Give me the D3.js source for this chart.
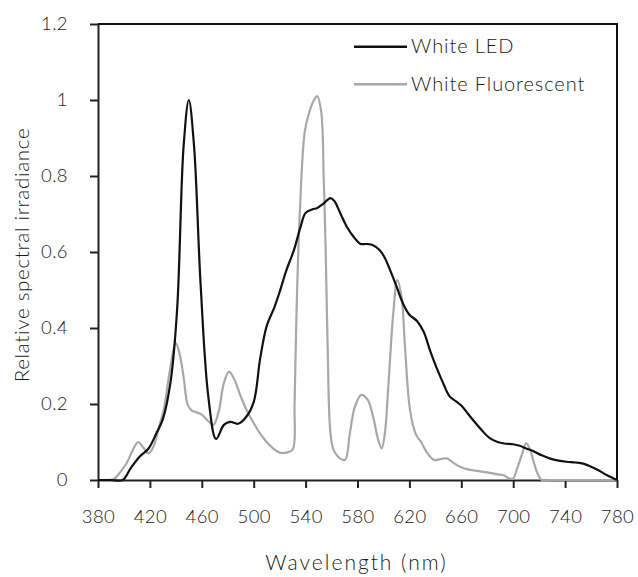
<!DOCTYPE html>
<html>
<head>
<meta charset="utf-8">
<script src="https://cdn.jsdelivr.net/npm/d3@7"></script>
<style>
  body { margin: 0; background: #fff; }
  svg text { font-family: Lato, "Open Sans", sans-serif; font-weight: 300; fill: #1a1a1a; }
</style>
</head>
<body>
<div id="content"></div>
<script>
// spectra (wavelength in nm, relative irradiance)
var ledNm = [380, 390, 399, 405, 412, 419, 425, 430, 436, 441, 446, 450, 454, 459, 465, 471, 477, 482, 488, 494, 500, 505, 510, 516, 520, 525, 531, 536, 540, 545, 549, 554, 559, 562, 567, 572, 577, 582, 587, 592, 597, 601, 606, 610, 615, 620, 626, 631, 636, 641, 646, 651, 656, 660, 665, 669, 676, 682, 688, 693, 700, 705, 710, 716, 722, 728, 735, 741, 748, 754, 760, 766, 772, 780];
var ledVal = [0, 0, 0, 0.03, 0.061, 0.083, 0.123, 0.16, 0.26, 0.45, 0.88, 1.0, 0.88, 0.52, 0.22, 0.108, 0.145, 0.153, 0.148, 0.165, 0.205, 0.32, 0.405, 0.455, 0.495, 0.55, 0.605, 0.665, 0.703, 0.712, 0.716, 0.728, 0.742, 0.735, 0.70, 0.665, 0.64, 0.622, 0.621, 0.618, 0.605, 0.585, 0.545, 0.51, 0.465, 0.435, 0.418, 0.39, 0.34, 0.295, 0.255, 0.22, 0.207, 0.196, 0.175, 0.158, 0.13, 0.11, 0.1, 0.096, 0.094, 0.09, 0.083, 0.075, 0.065, 0.057, 0.051, 0.048, 0.046, 0.043, 0.035, 0.025, 0.013, 0];

var fluoNm = [380, 388, 392, 397, 402, 407, 411, 415, 419, 423, 427, 431, 435, 440, 443, 446, 449, 452, 456, 460, 465, 469, 473, 477, 481, 485, 490, 495, 500, 505, 510, 515, 520, 525, 530, 531.5, 533, 535.5, 539.5, 543.5, 546.5, 549, 552, 554, 555.5, 557, 559, 561.5, 566.5, 570.5, 574, 578, 583, 588, 592, 596, 598.6, 601, 604, 607.6, 610.7, 614, 616.6, 620.5, 625, 629, 634, 639, 644, 649, 654, 659, 665, 672, 680, 688, 693, 697, 700, 703, 707, 710, 713, 716, 719, 722, 730, 780];
var fluoVal = [0, 0, 0.002, 0.02, 0.044, 0.08, 0.1, 0.085, 0.07, 0.09, 0.14, 0.19, 0.28, 0.36, 0.33, 0.27, 0.2, 0.183, 0.178, 0.172, 0.155, 0.145, 0.18, 0.255, 0.285, 0.265, 0.22, 0.18, 0.15, 0.122, 0.1, 0.083, 0.072, 0.072, 0.08, 0.2, 0.44, 0.70, 0.92, 0.975, 1.0, 1.01, 0.97, 0.79, 0.6, 0.35, 0.13, 0.08, 0.057, 0.053, 0.12, 0.193, 0.224, 0.21, 0.167, 0.105, 0.083, 0.12, 0.26, 0.44, 0.526, 0.48, 0.35, 0.184, 0.12, 0.1, 0.07, 0.053, 0.055, 0.057, 0.045, 0.035, 0.028, 0.024, 0.02, 0.015, 0.012, 0.004, 0.004, 0.03, 0.07, 0.097, 0.08, 0.045, 0.015, 0, 0, 0];

var xTicks = [380, 420, 460, 500, 540, 580, 620, 660, 700, 740, 780];
var yTicks = [0, 0.2, 0.4, 0.6, 0.8, 1, 1.2];

var series = [
  {name: "White LED", nm: ledNm, val: ledVal, color: "#111"},
  {name: "White Fluorescent", nm: fluoNm, val: fluoVal, color: "#a8a8a8"}
];

var margin = {top: 24, right: 21, bottom: 97, left: 98};
var width = 638 - margin.left - margin.right;
var height = 577 - margin.top - margin.bottom;

var svg = d3.select("#content").append("svg")
  .attr("width", 638).attr("height", 577);

var g = svg.append("g")
  .attr("transform", "translate(" + margin.left + "," + margin.top + ")");

var x = d3.scaleLinear().domain([380, 780]).range([0, width]);
var y = d3.scaleLinear().domain([0, 1.2]).range([height, 0]);

// axes
var xAxis = g.append("g")
  .attr("transform", "translate(0," + height + ")")
  .call(d3.axisBottom(x).tickValues(xTicks).tickSize(8).tickPadding(22).tickSizeOuter(0));
var yAxis = g.append("g")
  .call(d3.axisLeft(y).tickValues(yTicks).tickSize(8).tickPadding(22).tickSizeOuter(0)
    .tickFormat(function(d) { return d3.format("")(+d.toFixed(1)); }));

[xAxis, yAxis].forEach(function(a) {
  a.select(".domain").attr("stroke", "#222").attr("stroke-width", 2);
  a.selectAll(".tick line").attr("stroke", "#222").attr("stroke-width", 2);
  a.selectAll(".tick text").style("font-size", "18.5px").style("letter-spacing", "0.4px").attr("fill", "#1a1a1a");
});

// frame top and right
g.append("path")
  .attr("d", "M0,0H" + width + "V" + height)
  .attr("fill", "none").attr("stroke", "#111").attr("stroke-width", 2);

// lines
var line = d3.line()
  .curve(d3.curveCatmullRom.alpha(0.5));

series.slice().reverse().forEach(function(s) {
  g.append("path")
    .datum(s.nm.map(function(n, i) { return [x(n), y(s.val[i])]; }))
    .attr("fill", "none")
    .attr("stroke", s.color)
    .attr("stroke-width", 2.2)
    .attr("stroke-linejoin", "round")
    .attr("d", line);
});

// legend
var legend = g.selectAll(".legend")
  .data(series)
  .enter().append("g")
  .attr("class", "legend")
  .attr("transform", function(d, i) { return "translate(256," + (22.7 + i * 37.6) + ")"; });
legend.append("line")
  .attr("x1", 0).attr("x2", 53)
  .attr("stroke", function(d) { return d.color; })
  .attr("stroke-width", 2.5);
legend.append("text")
  .attr("x", 57).attr("dy", "0.32em")
  .style("font-size", "20px")
  .style("letter-spacing", "0.9px")
  .text(function(d) { return d.name; });

// axis titles
svg.append("text")
  .attr("x", margin.left + width / 2 - 1)
  .attr("y", 570)
  .attr("text-anchor", "middle")
  .style("font-size", "21px")
  .style("letter-spacing", "2px")
  .text("Wavelength (nm)");

svg.append("text")
  .attr("transform", "translate(29,255) rotate(-90)")
  .attr("text-anchor", "middle")
  .style("font-size", "20.5px")
  .style("letter-spacing", "0.7px")
  .text("Relative spectral irradiance");
</script>
</body>
</html>
